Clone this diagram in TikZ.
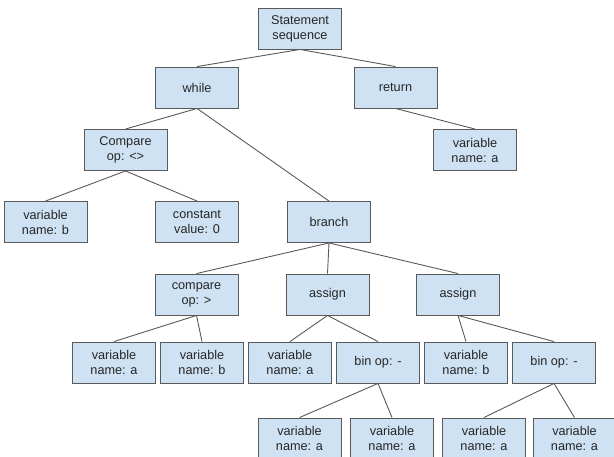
\documentclass[tikz,border=0pt]{standalone}
\usepackage{fontspec}
\setmainfont{Liberation Sans}
\usepackage{tikz}
\usetikzlibrary{positioning}
\definecolor{boxcolor}{RGB}{207,226,243}
\definecolor{linecolor}{RGB}{89,89,89}

\begin{document}
\begin{tikzpicture}[
  x=1pt, y=-1pt,
  ast/.style  = {rectangle, fill=boxcolor, draw=linecolor, line width=0.9pt,
                 minimum width=83pt, minimum height=41pt, inner sep=0pt,
                 align=center, text=black!85,
                 font=\fontsize{12.7}{15}\selectfont},
  link/.style = {draw=linecolor, line width=0.9pt}
]
\clip (0,0) rectangle (614,457);

\def\RowA{28.5}
\def\RowB{87.5}
\def\RowC{150}
\def\RowD{222}
\def\RowE{294.5}
\def\RowF{362.5}
\def\RowG{438.5}

% upper part of the tree
\node[ast] (seq)    at (300,\RowA)   {Statement\\sequence};
\node[ast] (loop)   at (197,\RowB)   {while};
\node[ast] (ret)    at (395.5,\RowB) {return};
\node[ast] (cmpne)  at (125.5,\RowC) {Compare\\op: <>};
\node[ast] (retvar) at (475,\RowC)   {variable\\name: a};
\node[ast] (varb)   at (45.5,\RowD)  {variable\\name: b};
\node[ast] (const)  at (197,\RowD)   {constant\\value: 0};
\node[ast] (branch) at (329,\RowD)   {branch};

% body of the branch
\node[ast] (cmpgt)  at (196.5,\RowE) {compare\\op: >};
\node[ast] (asgna)  at (327.5,\RowE) {assign};
\node[ast] (asgnb)  at (458,\RowE)   {assign};

\foreach \x/\nm/\lbl in {114/gta/a, 202/gtb/b, 290/lhsa/a, 466/lhsb/b}{
  \node[ast] (\nm) at (\x,\RowF) {variable\\name: \lbl};
}
\node[ast] (bina) at (378,\RowF) {bin op: -};
\node[ast] (binb) at (554,\RowF) {bin op: -};

\foreach \x/\nm in {299.5/opa, 392/opb, 484/opc, 574.5/opd}{
  \node[ast] (\nm) at (\x,\RowG) {variable\\name: a};
}

\foreach \p/\c in {seq/loop, seq/ret, loop/cmpne, loop/branch, ret/retvar,
    cmpne/varb, cmpne/const, branch/cmpgt, branch/asgna, branch/asgnb,
    cmpgt/gta, cmpgt/gtb, asgna/lhsa, asgna/bina, asgnb/lhsb, asgnb/binb,
    bina/opa, bina/opb, binb/opc, binb/opd}{
  \draw[link] (\p.south) -- (\c.north);
}
\end{tikzpicture}
\end{document}
